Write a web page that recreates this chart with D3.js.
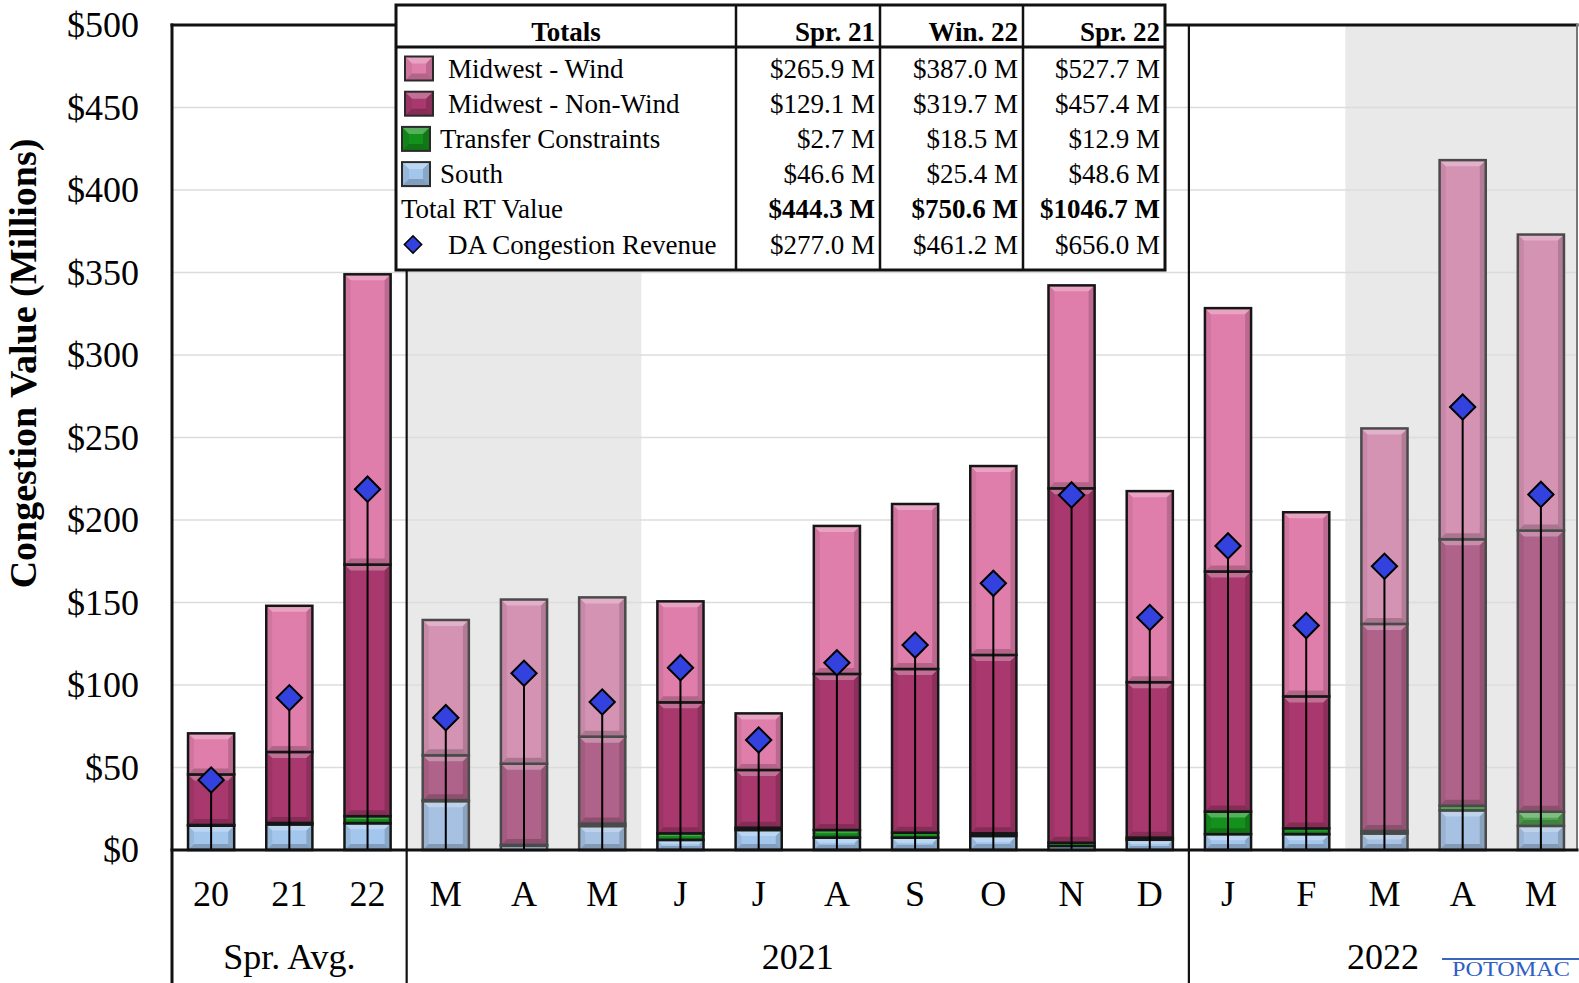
<!DOCTYPE html>
<html>
<head>
<meta charset="utf-8">
<script src="https://cdn.jsdelivr.net/npm/d3@7"></script>
<style>
  body { margin: 0; background: #fff; }
  svg { display: block; }
  text { font-family: "Liberation Serif", "Times New Roman", serif; fill: #000; }
</style>
</head>
<body>
<svg id="chart" width="1579" height="983"></svg>
<script>
// ---- Data ($ millions) ----
const categories = ["20", "21", "22", "M", "A", "M", "J", "J", "A", "S", "O", "N", "D", "J", "F", "M", "A", "M"];
const groupLabels = ["Spr. Avg.", "2021", "2022"];
const groupSizes = [3, 10, 5];
const springIndex = [3, 4, 5, 15, 16, 17];   // spring months: shaded background, muted bars

const south     = [14.7, 15.5, 16.2, 29.6, 2.5, 14.5, 6.1, 12.1, 7.5, 7.5, 8.5, 2.4, 6.2, 9.6, 9.6, 10.0, 24.0, 14.6];
const transfer  = [0.5, 0.9, 4.3, 0.6, 0.6, 1.5, 4.0, 1.4, 4.6, 3.0, 1.6, 2.0, 1.3, 13.7, 3.5, 1.5, 2.8, 8.6];
const nonWind   = [30.6, 43.0, 152.5, 27.2, 49.2, 52.7, 79.4, 35.0, 94.6, 99.2, 108.1, 214.8, 94.2, 145.5, 80.0, 125.5, 161.5, 170.4];
const wind      = [24.9, 88.6, 175.9, 82.0, 99.5, 84.4, 61.2, 34.3, 89.7, 100.0, 114.5, 123.0, 115.8, 159.6, 111.6, 118.5, 229.8, 179.4];
const daRevenue = [42.4, 92.3, 218.7, 80.2, 107.1, 89.7, 110.5, 66.7, 113.5, 124.2, 161.6, 215.2, 140.9, 184.3, 136.0, 172.0, 268.5, 215.5];

const yTicks = [0, 50, 100, 150, 200, 250, 300, 350, 400, 450, 500];

// Summary table
const tableColumns = ["Spr. 21", "Win. 22", "Spr. 22"];
const tableWind     = [265.9, 387.0, 527.7];
const tableNonWind  = [129.1, 319.7, 457.4];
const tableTransfer = [2.7, 18.5, 12.9];
const tableSouth    = [46.6, 25.4, 48.6];
const tableTotal    = [444.3, 750.6, 1046.7];
const tableDA       = [277.0, 461.2, 656.0];

// ---- Styles ----
const seriesKeys = ["south", "transfer", "nonWind", "wind"];
const colors = { south: "#a3c6ec", transfer: "#14901c", nonWind: "#a8386d", wind: "#e07eab" };
const mutedColors = { south: "#a6c1e2", transfer: "#4fa24f", nonWind: "#b0638a", wind: "#d593b3" };

const svg = d3.select("#chart");
const plot = { left: 172, right: 1577, top: 25, bottom: 850, bottomEdge: 983 };

const x = d3.scaleBand()
  .domain(categories.map((c, i) => i))
  .range([plot.left, 1580])
  .paddingInner(0.41)
  .paddingOuter(0.205);
const step = x.step();
// left edge of category band i (i may equal the category count)
const bandLeft = i => x.range()[0] + i * step;
const clampX = v => Math.min(v, plot.right);

const y = d3.scaleLinear().domain([0, 500]).range([plot.bottom, plot.top]);

// ---- Shaded spring periods ----
const shadeRuns = [];
springIndex.forEach(i => {
  const last = shadeRuns[shadeRuns.length - 1];
  if (last && last[1] === i) last[1] = i + 1; else shadeRuns.push([i, i + 1]);
});
svg.append("g").selectAll("rect").data(shadeRuns).join("rect")
  .attr("x", d => bandLeft(d[0]))
  .attr("y", plot.top)
  .attr("width", d => clampX(bandLeft(d[1])) - bandLeft(d[0]))
  .attr("height", plot.bottom - plot.top)
  .attr("fill", "#e9e9e9");

// ---- Gridlines ----
svg.append("g").selectAll("line").data(yTicks.filter(t => t > 0 && t < 500)).join("line")
  .attr("x1", plot.left).attr("x2", plot.right)
  .attr("y1", d => y(d)).attr("y2", d => y(d))
  .attr("stroke", "#dcdcdc").attr("stroke-width", 1.5);

// ---- Stacked bars ----
const rows = categories.map((c, i) => ({
  i, south: south[i], transfer: transfer[i], nonWind: nonWind[i], wind: wind[i]
}));
const stacked = d3.stack().keys(seriesKeys)(rows);

function bevel(g, x0, y0, w, h, b) {
  b = Math.max(0, Math.min(b, h / 2 - 1, w / 2 - 1));
  if (b <= 0.5) return;
  const pts = (arr) => arr.map(p => p.join(",")).join(" ");
  g.append("polygon").attr("points", pts([[x0, y0], [x0 + w, y0], [x0 + w - b, y0 + b], [x0 + b, y0 + b]]))
    .attr("fill", "#fff").attr("opacity", 0.28);
  g.append("polygon").attr("points", pts([[x0 + w, y0], [x0 + w, y0 + h], [x0 + w - b, y0 + h - b], [x0 + w - b, y0 + b]]))
    .attr("fill", "#000").attr("opacity", 0.16);
  g.append("polygon").attr("points", pts([[x0, y0 + h], [x0 + w, y0 + h], [x0 + w - b, y0 + h - b], [x0 + b, y0 + h - b]]))
    .attr("fill", "#000").attr("opacity", 0.2);
  g.append("polygon").attr("points", pts([[x0, y0], [x0, y0 + h], [x0 + b, y0 + h - b], [x0 + b, y0 + b]]))
    .attr("fill", "#000").attr("opacity", 0.07);
}

const barsG = svg.append("g");
stacked.forEach(layer => {
  layer.forEach(d => {
    const i = d.data.i;
    const muted = springIndex.includes(i);
    const x0 = x(i), w = x.bandwidth();
    const yTop = y(d[1]), yBot = y(d[0]);
    const h = yBot - yTop;
    const g = barsG.append("g");
    g.append("rect").attr("x", x0).attr("y", yTop).attr("width", w).attr("height", h)
      .attr("fill", (muted ? mutedColors : colors)[layer.key]);
    bevel(g, x0, yTop, w, h, 6);
    g.append("rect").attr("x", x0).attr("y", yTop).attr("width", w).attr("height", h)
      .attr("fill", "none")
      .attr("stroke", muted ? "#4a4a4a" : "#161616")
      .attr("stroke-width", 2.5);
  });
});

// ---- DA congestion revenue: drop lines + diamonds ----
const daG = svg.append("g");
daG.selectAll("line").data(daRevenue).join("line")
  .attr("x1", (d, i) => x(i) + x.bandwidth() / 2)
  .attr("x2", (d, i) => x(i) + x.bandwidth() / 2)
  .attr("y1", d => y(d)).attr("y2", y(0))
  .attr("stroke", "#000").attr("stroke-width", 2);
const diamond = d3.symbol(d3.symbolSquare, 320)();
daG.selectAll("path").data(daRevenue).join("path")
  .attr("d", diamond)
  .attr("transform", (d, i) => `translate(${x(i) + x.bandwidth() / 2},${y(d)}) rotate(45)`)
  .attr("fill", "#3342de").attr("stroke", "#000").attr("stroke-width", 2);

// ---- Frame and dividers ----
const frame = svg.append("g").attr("stroke-linecap", "square");
frame.append("line").attr("x1", plot.left).attr("x2", plot.right).attr("y1", plot.top).attr("y2", plot.top)
  .attr("stroke", "#111").attr("stroke-width", 3);
frame.append("line").attr("x1", plot.right).attr("x2", plot.right).attr("y1", plot.top).attr("y2", plot.bottom)
  .attr("stroke", "#777").attr("stroke-width", 2);
frame.append("line").attr("x1", plot.left).attr("x2", plot.left).attr("y1", plot.top).attr("y2", plot.bottomEdge)
  .attr("stroke", "#111").attr("stroke-width", 3);
let cum = 0;
groupSizes.slice(0, -1).forEach(n => {
  cum += n;
  frame.append("line").attr("x1", bandLeft(cum)).attr("x2", bandLeft(cum))
    .attr("y1", plot.top).attr("y2", plot.bottomEdge)
    .attr("stroke", "#111").attr("stroke-width", 2.2);
});
frame.append("line").attr("x1", plot.left).attr("x2", plot.right).attr("y1", plot.bottom).attr("y2", plot.bottom)
  .attr("stroke", "#111").attr("stroke-width", 3);

// ---- Axes labels ----
svg.append("g").selectAll("text").data(yTicks).join("text")
  .attr("x", 139).attr("y", d => y(d)).attr("dy", "0.34em")
  .attr("text-anchor", "end").attr("font-size", 36)
  .text(d => "$" + d);

svg.append("text")
  .attr("transform", `translate(36,${(plot.top + plot.bottom) / 2 - 74}) rotate(-90)`)
  .attr("text-anchor", "middle").attr("font-size", 38).attr("font-weight", "bold")
  .text("Congestion Value (Millions)");

svg.append("g").selectAll("text").data(categories).join("text")
  .attr("x", (d, i) => x(i) + x.bandwidth() / 2).attr("y", 906)
  .attr("text-anchor", "middle").attr("font-size", 36)
  .text(d => d);

let start = 0;
groupLabels.forEach((lab, k) => {
  const a = bandLeft(start), b = clampX(bandLeft(start + groupSizes[k]));
  svg.append("text").attr("x", (a + b) / 2).attr("y", 969)
    .attr("text-anchor", "middle").attr("font-size", 36).text(lab);
  start += groupSizes[k];
});

// ---- Summary table ----
const tb = { left: 396, right: 1165, top: 5, bottom: 270, header: 47, cols: [736, 880, 1023] };
const tg = svg.append("g");
tg.append("rect").attr("x", tb.left).attr("y", tb.top).attr("width", tb.right - tb.left).attr("height", tb.bottom - tb.top)
  .attr("fill", "#fff").attr("stroke", "#111").attr("stroke-width", 3);
tb.cols.forEach(cx => tg.append("line").attr("x1", cx).attr("x2", cx).attr("y1", tb.top).attr("y2", tb.bottom)
  .attr("stroke", "#111").attr("stroke-width", 2.5));
tg.append("line").attr("x1", tb.left).attr("x2", tb.right).attr("y1", tb.header).attr("y2", tb.header)
  .attr("stroke", "#111").attr("stroke-width", 3);

const fs = 27;
tg.append("text").attr("x", (tb.left + tb.cols[0]) / 2).attr("y", 41).attr("text-anchor", "middle")
  .attr("font-size", fs).attr("font-weight", "bold").text("Totals");
const colRight = [tb.cols[1] - 5, tb.cols[2] - 5, tb.right - 5];
tableColumns.forEach((c, j) => tg.append("text").attr("x", colRight[j]).attr("y", 41).attr("text-anchor", "end")
  .attr("font-size", fs).attr("font-weight", "bold").text(c));

const fmt = v => "$" + v.toFixed(1) + " M";
const tableRows = [
  { label: "Midwest - Wind", key: "wind", values: tableWind, indent: true },
  { label: "Midwest - Non-Wind", key: "nonWind", values: tableNonWind, indent: true },
  { label: "Transfer Constraints", key: "transfer", values: tableTransfer },
  { label: "South", key: "south", values: tableSouth },
  { label: "Total RT Value", key: null, values: tableTotal, bold: true },
  { label: "DA Congestion Revenue", key: "da", values: tableDA }
];
const rowCenter = r => 68.5 + r * 35.2;
tableRows.forEach((row, r) => {
  const cy = rowCenter(r);
  let tx = 401;
  if (row.key && row.key !== "da") {
    const ix = row.indent ? 405 : 402;
    const g = tg.append("g");
    g.append("rect").attr("x", ix).attr("y", cy - 12).attr("width", 28).attr("height", 24)
      .attr("fill", colors[row.key]);
    bevel(g, ix, cy - 12, 28, 24, 7);
    g.append("rect").attr("x", ix).attr("y", cy - 12).attr("width", 28).attr("height", 24)
      .attr("fill", "none").attr("stroke", "#2a2a2a").attr("stroke-width", 2);
    tx = row.indent ? 448 : 440;
  } else if (row.key === "da") {
    tg.append("path").attr("d", d3.symbol(d3.symbolSquare, 150)())
      .attr("transform", `translate(413,${cy}) rotate(45)`)
      .attr("fill", "#3342de").attr("stroke", "#000").attr("stroke-width", 1.5);
    tx = 448;
  }
  tg.append("text").attr("x", tx).attr("y", cy + 9).attr("font-size", fs).text(row.label);
  row.values.forEach((v, j) => tg.append("text").attr("x", colRight[j]).attr("y", cy + 9)
    .attr("text-anchor", "end").attr("font-size", fs).attr("font-weight", row.bold ? "bold" : "normal")
    .text(fmt(v)));
});

// ---- Logo mark ----
svg.append("line").attr("x1", 1442).attr("x2", 1579).attr("y1", 959).attr("y2", 959)
  .attr("stroke", "#3a64c0").attr("stroke-width", 2);
svg.append("text").attr("x", 1452).attr("y", 976).attr("font-size", 22)
  .attr("textLength", 118).attr("lengthAdjust", "spacingAndGlyphs")
  .style("fill", "#2f5fc4").text("POTOMAC");
</script>
</body>
</html>
